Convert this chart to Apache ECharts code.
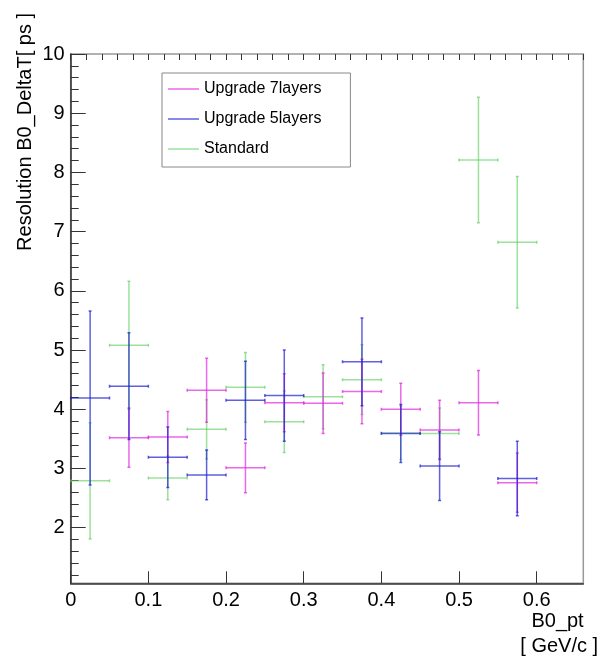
<!DOCTYPE html>
<html>
<head>
<meta charset="utf-8">
<script src="https://cdn.jsdelivr.net/npm/echarts@6/dist/echarts.min.js"></script>
<style>
  html, body { margin: 0; padding: 0; background: #fff; }
  #chart { width: 600px; height: 662px; }
</style>
</head>
<body>
<div id="chart"></div>
<script>
// bin centres of B0_pt, each bin is 0.05 wide
const binCenters = [0.025, 0.075, 0.125, 0.175, 0.225, 0.275, 0.325, 0.375, 0.425, 0.475, 0.525, 0.575]
const binHalfWidth = 0.025

const up7 = [null, 3.52, 3.53, 4.32, 3.01, 4.11, 4.10, 4.30, 4.00, 3.65, 4.11, 2.76]
const up7Err = [null, 0.50, 0.43, 0.54, 0.42, 0.49, 0.51, 0.545, 0.44, 0.50, 0.545, 0.50]

const up5 = [4.19, 4.39, 3.19, 2.89, 4.15, 4.23, null, 4.80, 3.59, 3.04, null, 2.83]
const up5Err = [1.47, 0.90, 0.51, 0.42, 0.66, 0.77, null, 0.74, 0.49, 0.58, null, 0.63]

const standard = [2.79, 5.08, 2.84, 3.66, 4.37, 3.79, 4.21, 4.50, 3.60, 3.59, 8.21, 6.82]
const standardErr = [0.98, 1.08, 0.37, 0.50, 0.59, 0.52, 0.54, 0.59, 0.45, 0.43, 1.06, 1.11]

const xLabels = [0, 0.1, 0.2, 0.3, 0.4, 0.5, 0.6]
const yLabels = [2, 3, 4, 5, 6, 7, 8, 9, 10]
const yMinor = [1.2, 1.4, 1.6, 1.8, 2.2, 2.4, 2.6, 2.8, 3.2, 3.4, 3.6, 3.8, 4.2, 4.4, 4.6, 4.8,
  5.2, 5.4, 5.6, 5.8, 6.2, 6.4, 6.6, 6.8, 7.2, 7.4, 7.6, 7.8, 8.2, 8.4, 8.6, 8.8, 9.2, 9.4, 9.6, 9.8]

const font = 'Liberation Sans, Arial, sans-serif'
const c7 = 'rgba(225, 40, 225, 0.7)'
const c5 = 'rgba(30, 30, 210, 0.7)'
const cStd = 'rgba(90, 205, 90, 0.6)'

function toData (vals, errs) {
  const out = []
  for (let i = 0; i < binCenters.length; i++) {
    if (vals[i] === null) continue
    out.push([binCenters[i], vals[i], errs[i]])
  }
  return out
}

function renderBars (params, api) {
  const x = api.value(0)
  const y = api.value(1)
  const e = api.value(2)
  const l = api.coord([x - binHalfWidth, y])
  const r = api.coord([x + binHalfWidth, y])
  const t = api.coord([x, y + e])
  const b = api.coord([x, y - e])
  const style = { stroke: api.visual('color'), lineWidth: 1.5 }
  const cap = 1.5
  const seg = (x1, y1, x2, y2) => ({ type: 'line', shape: { x1, y1, x2, y2 }, style })
  return {
    type: 'group',
    children: [
      seg(l[0], l[1], r[0], r[1]),
      seg(t[0], t[1], b[0], b[1]),
      seg(l[0], l[1] - cap, l[0], l[1] + cap),
      seg(r[0], r[1] - cap, r[0], r[1] + cap),
      seg(t[0] - cap, t[1], t[0] + cap, t[1]),
      seg(b[0] - cap, b[1], b[0] + cap, b[1])
    ]
  }
}

function barSeries (name, color, vals, errs) {
  return {
    name,
    type: 'custom',
    xAxisIndex: 0,
    yAxisIndex: 0,
    itemStyle: { color },
    encode: { x: 0, y: 1 },
    data: toData(vals, errs),
    renderItem: renderBars,
    clip: true
  }
}

const chart = echarts.init(document.getElementById('chart'))
const option = {
  backgroundColor: '#fff',
  animation: false,
  textStyle: { fontFamily: font },
  grid: {
    left: 70.7,
    right: 16.7,
    top: 54,
    bottom: 78.7,
    outerBoundsMode: 'none',
    containLabel: false,
    show: true,
    borderColor: '#999',
    borderWidth: 1.5
  },
  legend: {
    orient: 'vertical',
    left: 162,
    top: 73,
    selectedMode: false,
    backgroundColor: '#fff',
    borderColor: '#888',
    borderWidth: 1,
    padding: [8, 29, 10, 6],
    itemGap: 14,
    itemWidth: 31,
    itemHeight: 1.5,
    textStyle: { fontSize: 16, color: '#000', fontFamily: font },
    data: [
      { name: 'Upgrade 7layers', icon: 'rect' },
      { name: 'Upgrade 5layers', icon: 'rect' },
      { name: 'Standard', icon: 'rect' }
    ]
  },
  xAxis: [
    {
      type: 'value',
      min: 0,
      max: 0.66,
      axisLine: { lineStyle: { color: '#333', width: 1.5 } },
      axisTick: { inside: true, length: 12, customValues: xLabels, lineStyle: { color: '#333' } },
      axisLabel: { customValues: xLabels, fontSize: 20, color: '#000', margin: 7, fontFamily: font },
      splitLine: { show: false },
      name: '  B0_pt\n[ GeV/c ]',
      nameLocation: 'end',
      nameGap: -63,
      nameMoveOverlap: false,
      nameTextStyle: {
        fontSize: 20,
        color: '#000',
        align: 'left',
        verticalAlign: 'top',
        lineHeight: 25,
        padding: [26, 0, 0, 0],
        fontFamily: font
      }
    },
    {
      type: 'value',
      min: 0,
      max: 0.66,
      interval: 0.02,
      axisLine: { show: false },
      axisTick: { inside: true, length: 6, lineStyle: { color: '#333' } },
      axisLabel: { show: false },
      splitLine: { show: false }
    }
  ],
  yAxis: [
    {
      type: 'value',
      min: 1.06,
      max: 10,
      axisLine: { show: true, lineStyle: { color: '#333', width: 1.5 } },
      axisTick: { show: true, inside: true, length: 15, customValues: yLabels, lineStyle: { color: '#333' } },
      axisLabel: { customValues: yLabels, fontSize: 20, color: '#000', margin: 6, fontFamily: font },
      splitLine: { show: false }
    },
    {
      type: 'value',
      min: 1.06,
      max: 10,
      axisLine: { show: false },
      axisTick: { show: true, inside: true, length: 8, customValues: yMinor, lineStyle: { color: '#333' } },
      axisLabel: { show: false },
      splitLine: { show: false },
      position: 'left'
    }
  ],
  graphic: [
    {
      type: 'text',
      x: 25,
      y: 13,
      rotation: Math.PI / 2,
      style: {
        text: 'Resolution B0_DeltaT[ ps ]',
        fontSize: 20,
        fontFamily: font,
        fill: '#000',
        textAlign: 'right',
        textVerticalAlign: 'middle'
      }
    }
  ],
  series: [
    barSeries('Standard', cStd, standard, standardErr),
    barSeries('Upgrade 7layers', c7, up7, up7Err),
    barSeries('Upgrade 5layers', c5, up5, up5Err)
  ]
}
chart.setOption(option)
</script>
</body>
</html>
